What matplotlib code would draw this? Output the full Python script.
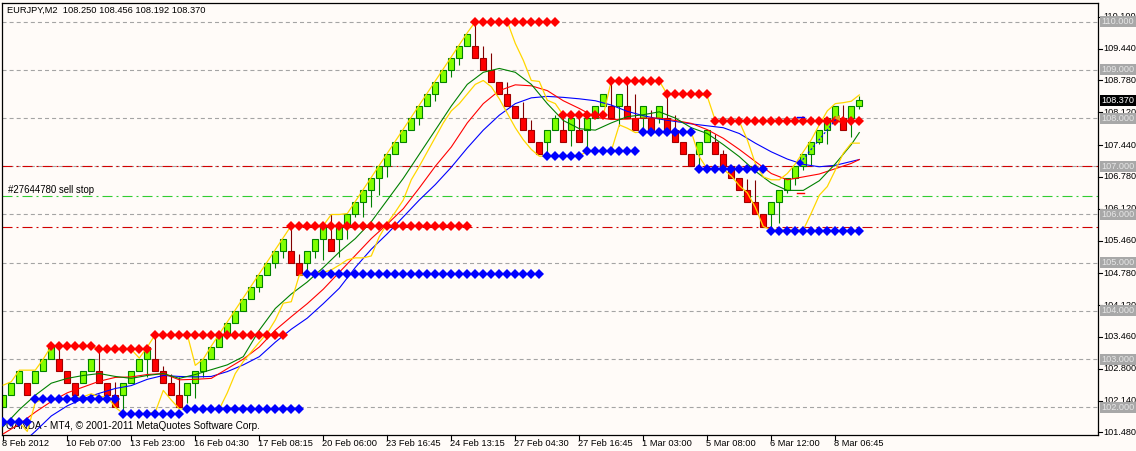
import matplotlib
matplotlib.use("Agg")
import matplotlib.pyplot as plt
from matplotlib.patches import Rectangle
from matplotlib.transforms import blended_transform_factory

plt.rcParams['font.family'] = ['Liberation Sans', 'DejaVu Sans']
plt.rcParams['lines.scale_dashes'] = False

titulo = "EURJPY,M2  108.250 108.456 108.192 108.370"
pie = "OANDA - MT4, \u00a9 2001-2011 MetaQuotes Software Corp."
orden_texto = "#27644780 sell stop"

# ladrillos renko (caja 0.25)
bar_open = [102.0, 102.25, 102.5, 102.5, 102.5, 102.75, 103.0, 103.0, 102.75, 102.5,
            102.5, 102.75, 102.75, 102.5, 102.25, 102.25, 102.5, 102.75, 103.0, 103.0,
            102.75, 102.5, 102.25, 102.25, 102.5, 102.75, 103.0, 103.25, 103.5, 103.75,
            104.0, 104.25, 104.5, 104.75, 105.0, 105.25, 105.25, 105.0, 105.0, 105.25,
            105.5, 105.5, 105.5, 105.75, 106.0, 106.25, 106.5, 106.75, 107.0, 107.25,
            107.5, 107.75, 108.0, 108.25, 108.5, 108.75, 109.0, 109.25, 109.5, 109.5,
            109.25, 109.0, 108.75, 108.5, 108.25, 108.0, 107.75, 107.5, 107.5, 107.75,
            107.75, 107.75, 107.75, 107.75, 108.0, 108.25, 108.25, 108.25, 108.25, 108.0,
            108.0, 108.0, 108.0, 108.0, 107.75, 107.5, 107.25, 107.25, 107.5, 107.5,
            107.25, 107.0, 106.75, 106.5, 106.25, 106.0, 106.0, 106.25, 106.5, 106.75,
            107.0, 107.25, 107.5, 107.75, 108.0, 108.0, 108.0, 108.25]
bar_close = [102.25, 102.5, 102.75, 102.25, 102.75, 103.0, 103.25, 102.75, 102.5, 102.25,
             102.75, 103.0, 102.5, 102.25, 102.0, 102.5, 102.75, 103.0, 103.25, 102.75,
             102.5, 102.25, 102.0, 102.5, 102.75, 103.0, 103.25, 103.5, 103.75, 104.0,
             104.25, 104.5, 104.75, 105.0, 105.25, 105.5, 105.0, 104.75, 105.25, 105.5,
             105.75, 105.25, 105.75, 106.0, 106.25, 106.5, 106.75, 107.0, 107.25, 107.5,
             107.75, 108.0, 108.25, 108.5, 108.75, 109.0, 109.25, 109.5, 109.75, 109.25,
             109.0, 108.75, 108.5, 108.25, 108.0, 107.75, 107.5, 107.25, 107.75, 108.0,
             107.5, 108.0, 107.5, 108.0, 108.25, 108.5, 108.0, 108.5, 108.0, 107.75,
             108.25, 107.75, 108.25, 107.75, 107.5, 107.25, 107.0, 107.5, 107.75, 107.25,
             107.0, 106.75, 106.5, 106.25, 106.0, 105.75, 106.25, 106.5, 106.75, 107.0,
             107.25, 107.5, 107.75, 108.0, 108.25, 107.75, 108.25, 108.37]
bar_high = [102.25, 102.5, 102.75, 102.5, 102.75, 103.0, 103.25, 103.25, 102.75, 102.5,
            102.75, 103.0, 103.18, 102.5, 102.53, 102.5, 102.75, 103.0, 103.25, 103.5,
            102.85, 102.7, 102.63, 102.5, 102.75, 103.0, 103.25, 103.5, 103.75, 104.0,
            104.25, 104.5, 104.75, 105.0, 105.25, 105.5, 105.77, 105.19, 105.25, 105.5,
            105.75, 106.0, 105.75, 106.0, 106.25, 106.5, 106.75, 107.0, 107.25, 107.5,
            107.75, 108.0, 108.25, 108.5, 108.75, 109.0, 109.25, 109.5, 109.75, 110.0,
            109.5, 109.35, 108.75, 108.75, 108.25, 108.34, 107.96, 107.5, 107.75, 108.06,
            108.0, 108.0, 108.0, 108.0, 108.25, 108.5, 108.77, 108.5, 108.75, 108.5,
            108.25, 108.17, 108.25, 108.49, 108.06, 107.5, 107.25, 107.5, 107.75, 107.68,
            107.34, 107.0, 106.75, 106.73, 106.71, 106.0, 106.25, 106.5, 106.75, 107.0,
            107.25, 107.5, 107.75, 108.0, 108.25, 108.27, 108.25, 108.456]
bar_low = [102.0, 102.25, 102.5, 102.25, 102.5, 102.75, 103.0, 102.75, 102.5, 102.25,
           102.5, 102.75, 102.5, 102.25, 102.0, 101.87, 102.5, 102.75, 102.63, 102.75,
           102.5, 102.25, 102.0, 102.08, 102.2, 102.63, 103.0, 103.25, 103.5, 103.75,
           104.0, 104.25, 104.4, 104.75, 104.9, 105.1, 105.0, 104.75, 104.77, 105.1,
           105.05, 105.25, 105.12, 105.5, 105.95, 105.95, 106.15, 106.4, 106.77, 107.25,
           107.5, 107.75, 107.85, 108.25, 108.35, 108.75, 108.85, 109.1, 109.5, 109.25,
           109.0, 108.75, 108.5, 108.25, 108.0, 107.75, 107.5, 107.25, 107.25, 107.75,
           107.5, 107.42, 107.5, 107.3, 108.0, 108.25, 108.0, 107.83, 108.0, 107.75,
           107.75, 107.75, 107.9, 107.75, 107.5, 107.25, 107.0, 107.0, 107.5, 107.25,
           107.0, 106.75, 106.5, 106.25, 106.0, 105.75, 105.75, 105.82, 106.44, 106.61,
           106.92, 107.02, 107.47, 107.47, 108.0, 107.75, 107.61, 108.192]

# medias moviles leidas cada 2 barras
ma_bars = list(range(0, 107, 2)) + [107]
ma_fast = [101.6, 101.95, 102.25, 102.5, 102.6, 102.66, 102.7, 102.64, 102.6, 102.66,
           102.7, 102.6, 102.68, 102.78, 102.88, 103.05, 103.6, 104.05, 104.35, 104.6,
           104.9, 105.22, 105.5, 105.85, 106.3, 106.75, 107.25, 107.75, 108.25, 108.7,
           108.95, 109.03, 108.95, 108.7, 108.3, 107.95, 107.78, 107.75, 107.9, 108.03,
           108.07, 108.13, 108.0, 107.8, 107.68, 107.45, 107.2, 106.9, 106.65, 106.5,
           106.5, 106.7, 107.05, 107.45, 107.7]
ma_mid = [101.45, 101.65, 101.9, 102.12, 102.3, 102.42, 102.54, 102.62, 102.63, 102.68,
          102.7, 102.57, 102.58, 102.6, 102.8, 103.0, 103.25, 103.6, 103.88, 104.15,
          104.45, 104.8, 105.15, 105.5, 105.8, 106.12, 106.55, 107.0, 107.4, 107.9,
          108.3, 108.57, 108.69, 108.67, 108.57, 108.36, 108.2, 108.02, 107.97, 107.98,
          108.0, 108.0, 107.95, 107.89, 107.76, 107.58, 107.35, 107.1, 106.85, 106.72,
          106.78, 106.84, 106.95, 107.06, 107.14]
ma_slow = [100.9, 101.2, 101.5, 101.82, 102.03, 102.18, 102.29, 102.39, 102.45, 102.58,
           102.66, 102.64, 102.63, 102.64, 102.74, 102.88, 103.05, 103.35, 103.62, 103.85,
           104.15, 104.47, 104.9, 105.28, 105.6, 105.95, 106.3, 106.62, 106.98, 107.38,
           107.75, 108.06, 108.3, 108.42, 108.45, 108.43, 108.4, 108.36, 108.27, 108.14,
           108.05, 107.98, 107.93, 107.88, 107.84, 107.8, 107.68, 107.48, 107.3, 107.15,
           107.04, 106.99, 107.02, 107.1, 107.14]

# canal amarillo (un valor por barra)
band_upper = [102.46, 102.53, 102.77, 102.77, 102.77, 103.0, 103.27, 103.27, 103.27, 103.27,
              103.27, 103.27, 103.2, 103.2, 103.2, 103.2, 103.2, 103.02, 103.25, 103.51,
              103.51, 103.51, 103.51, 103.51, 102.87, 103.0, 103.27, 103.52, 103.77, 104.02,
              104.27, 104.52, 104.77, 105.02, 105.27, 105.52, 105.77, 105.77, 105.77, 105.77,
              105.77, 106.0, 106.0, 106.02, 106.27, 106.52, 106.77, 107.02, 107.27, 107.52,
              107.77, 108.02, 108.27, 108.52, 108.77, 109.02, 109.27, 109.52, 109.77, 110.0,
              110.0, 110.0, 110.0, 110.0, 109.55, 109.2, 108.78, 108.76, 108.37, 108.3,
              108.06, 108.06, 108.06, 108.06, 108.06, 108.06, 108.77, 108.77, 108.77, 108.77,
              108.77, 108.77, 108.77, 108.49, 108.49, 108.49, 108.49, 108.49, 108.45, 107.95,
              107.93, 107.93, 107.93, 107.55, 107.06, 106.78, 106.72, 106.72, 106.85, 107.05,
              107.3, 107.55, 107.86, 108.15, 108.3, 108.32, 108.35, 108.48]
band_lower = [101.68, 101.68, 101.68, 101.5, 102.1, 102.17, 102.17, 102.17, 102.17, 102.2,
              102.22, 102.28, 102.22, 102.22, 102.0, 101.87, 101.87, 101.87, 101.87, 101.9,
              102.35, 102.15, 101.97, 101.96, 101.96, 101.96, 101.96, 101.96, 102.3, 102.7,
              102.95, 103.15, 103.35, 103.54, 103.81, 104.16, 104.19, 104.74, 104.76, 104.8,
              104.8, 104.85, 104.95, 105.06, 105.1, 105.1, 105.14, 105.54, 105.82, 106.05,
              106.3, 106.72, 107.0, 107.3, 107.6, 107.9, 108.15, 108.3, 108.5, 108.7,
              108.78, 108.65, 108.4, 108.1, 107.8, 107.55, 107.35, 107.21, 107.21, 107.21,
              107.21, 107.21, 107.21, 107.32, 107.32, 107.32, 107.32, 107.86, 107.79, 107.7,
              107.71, 107.71, 107.71, 107.71, 107.71, 107.71, 107.71, 107.2, 106.94, 106.94,
              106.94, 106.8, 106.6, 106.45, 106.15, 105.75, 105.68, 105.68, 105.68, 105.68,
              105.68, 106.03, 106.4, 106.58, 106.92, 107.27, 107.48, 107.48]

# niveles de resistencia (rojo) y soporte (azul): precio, barra inicial, barra final
resist_price = [103.27, 103.2, 103.51, 105.77, 110.0, 108.06, 108.77, 108.49, 107.93]
resist_from = [6, 12, 19, 36, 59, 70, 76, 83, 89]
resist_to = [11, 18, 35, 58, 69, 75, 82, 88, 107]
support_price = [101.7, 102.17, 101.86, 101.96, 104.76, 107.21, 107.32, 107.71, 106.94, 105.66]
support_from = [0, 4, 15, 23, 38, 68, 73, 80, 87, 96]
support_to = [3, 14, 22, 37, 67, 72, 79, 86, 95, 107]

# lineas horizontales
level_lines = [110.0, 109.0, 108.0, 107.0, 106.0, 105.0, 104.0, 103.0, 102.0]
sell_stop = 106.39
stop_loss = 107.0
take_profit = 105.75
last_price = 108.37

# operacion cerrada
trade_bars = [99.6, 104.2]
trade_prices = [107.07, 108.0]
trade_tp = 108.03
trade_sl = 106.44

price_ticks = [110.100, 109.440, 108.780, 108.120, 107.440, 106.780, 106.120,
               105.460, 104.780, 104.120, 103.460, 102.800, 102.140, 101.480]
time_labels = ["8 Feb 2012", "10 Feb 07:00", "13 Feb 23:00", "16 Feb 04:30",
               "17 Feb 08:15", "20 Feb 06:00", "23 Feb 16:45", "24 Feb 13:15",
               "27 Feb 04:30", "27 Feb 16:45", "1 Mar 03:00", "5 Mar 08:00",
               "6 Mar 12:00", "8 Mar 06:45"]
time_bars = list(range(0, 105, 8))

W, H = 1136, 451
fondo = '#fffbf8'

fig = plt.figure(figsize=(W / 100, H / 100), dpi=100)
fig.patch.set_facecolor(fondo)
ax = fig.add_axes([2 / W, 16 / H, 1095.7 / W, 432.3 / H])
ax.set_facecolor(fondo)
ax.set_xlim(-0.16, 136.8)
ax.set_ylim(101.425, 110.394)
ax.set_xticks([])
ax.set_yticks([])
for s in ax.spines.values():
    s.set_linewidth(0.9)
    s.set_color('black')

# lineas de nivel
for p in level_lines:
    ax.axhline(p, color='#a4a4a4', lw=0.8, ls=(0, (2.9, 2.2)), zorder=1)
ax.axhline(sell_stop, color='#32cd32', lw=0.8, ls=(0, (7.2, 2.9, 1.4, 2.9)), zorder=1.2)
ax.axhline(stop_loss, color='#d00000', lw=0.8, ls=(0, (7.2, 2.9, 1.4, 2.9)), zorder=1.2)
ax.axhline(take_profit, color='#d00000', lw=0.8, ls=(0, (7.2, 2.9, 1.4, 2.9)), zorder=1.2)

ax.text(0.0055, 0.5667, orden_texto, transform=ax.transAxes, fontsize=6.9,
        va='center', ha='left', zorder=1.3)
ax.text(0.004, 0.021, pie, transform=ax.transAxes, fontsize=7.2,
        va='center', ha='left', zorder=1.3)
ax.text(0.0048, 0.9815, titulo, transform=ax.transAxes, fontsize=6.7,
        va='center', ha='left', zorder=6)

# velas
for i in range(len(bar_open)):
    o, c = bar_open[i], bar_close[i]
    sube = c >= o
    ax.plot([i, i], [bar_low[i], bar_high[i]], color='#008000' if sube else '#800000',
            lw=0.8, zorder=2, solid_capstyle='butt')
    ax.add_patch(Rectangle((i - 0.36, min(o, c)), 0.72, abs(c - o),
                           facecolor='#80ff00' if sube else '#ff0000',
                           edgecolor='#008000' if sube else '#a00000',
                           lw=0.8, zorder=2.1))

# medias
ax.plot(ma_bars, ma_slow, color='#0000ff', lw=0.8, zorder=3)
ax.plot(ma_bars, ma_mid, color='#ff0000', lw=0.8, zorder=3)
ax.plot(ma_bars, ma_fast, color='#008000', lw=0.8, zorder=3)

# canal
ax.plot(range(len(band_upper)), band_upper, color='#ffd700', lw=0.9, zorder=3.5)
ax.plot(range(len(band_lower)), band_lower, color='#ffd700', lw=0.9, zorder=3.5)

# diamantes
for p, a, b in zip(resist_price, resist_from, resist_to):
    xs = list(range(a, b + 1))
    ax.plot(xs, [p] * len(xs), 'D', ms=4.9, color='#ff0000', mew=0, zorder=4)
for p, a, b in zip(support_price, support_from, support_to):
    xs = list(range(a, b + 1))
    ax.plot(xs, [p] * len(xs), 'D', ms=4.9, color='#0000ff', mew=0, zorder=4)

# operacion
ax.plot(trade_bars, trade_prices, color='#0000ff', lw=0.8, ls=(0, (1.5, 1.5)), zorder=4.5)
ax.plot(trade_bars[0], trade_prices[0], 'D', ms=4.5, color='#0000ff', mew=0, zorder=4.6)
ax.plot(trade_bars[1], trade_prices[1], '<', ms=5, color='#daa520', mew=0, zorder=4.6)
ax.plot([trade_bars[0] - 0.4, trade_bars[0] + 0.5], [trade_tp, trade_tp], color='#0000ff', lw=1, zorder=4.5)
ax.plot([trade_bars[0] - 0.4, trade_bars[0] + 0.5], [trade_sl, trade_sl], color='#ff0000', lw=1, zorder=4.5)

# escala de precios
fy = blended_transform_factory(fig.transFigure, ax.transData)
for p in price_ticks:
    ax.plot([1097.7 / W, 1101.5 / W], [p, p], transform=fy, color='black', lw=0.8, clip_on=False)
    ax.text(1103.5 / W, p, "%.3f" % p, transform=fy, fontsize=6.6, va='center', ha='left', clip_on=False)
box_h = 0.23
for p in level_lines:
    ax.add_patch(Rectangle((1099.5 / W, p - box_h / 2), 37 / W, box_h, transform=fy,
                           facecolor='#a8a8a8', edgecolor='none', clip_on=False, zorder=5))
    ax.text(1101.5 / W, p, "%.3f" % p, transform=fy, fontsize=6.6, color='#e6e6e6',
            va='center', ha='left', clip_on=False, zorder=6)
ax.add_patch(Rectangle((1099.5 / W, last_price - box_h / 2), 37 / W, box_h, transform=fy,
                       facecolor='black', edgecolor='none', clip_on=False, zorder=5))
ax.text(1101.5 / W, last_price, "%.3f" % last_price, transform=fy, fontsize=6.6,
        color='white', va='center', ha='left', clip_on=False, zorder=6)

# escala de tiempo
fx = blended_transform_factory(ax.transData, fig.transFigure)
for b, lab in zip(time_bars, time_labels):
    ax.plot([b, b], [16 / H, 11 / H], transform=fx, color='black', lw=0.8, clip_on=False)
    ax.text(b - 0.1, 8 / H, lab, transform=fx, fontsize=6.7, va='center', ha='left', clip_on=False)

fig.savefig('out.png', dpi=100, facecolor=fondo)
